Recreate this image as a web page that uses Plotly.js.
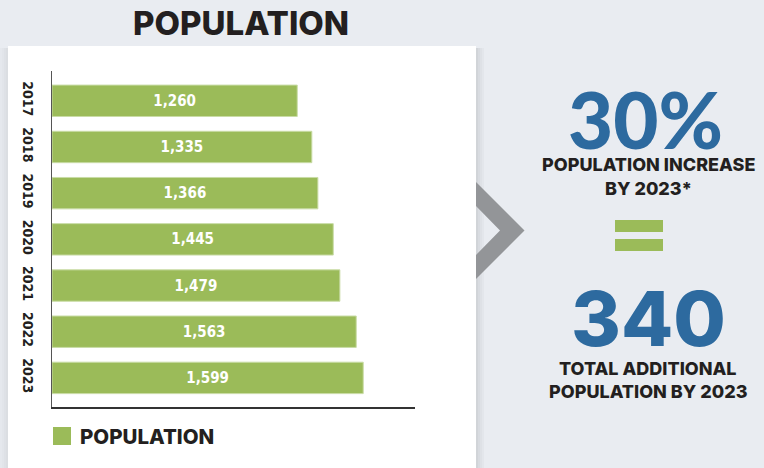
<!DOCTYPE html>
<html>
<head>
<meta charset="utf-8">
<script src="https://cdn.plot.ly/plotly-3.0.1.min.js"></script>
<style>html,body{margin:0;padding:0;background:#e9ecf1;}#chart{width:764px;height:468px;}</style>
</head>
<body>
<div id="chart"></div>
<script>
var years = ['2017', '2018', '2019', '2020', '2021', '2022', '2023'];
var population = [1260, 1335, 1366, 1445, 1479, 1563, 1599];
var seriesName = 'POPULATION';
var chartTitle = 'POPULATION';
var statPercent = '30%';
var statPercentLines = ['POPULATION INCREASE', 'BY 2023*'];
var statAdditional = '340';
var statAdditionalLines = ['TOTAL ADDITIONAL', 'POPULATION BY 2023'];

var W = 764, H = 468;
var L = 52, R = 415, T = 71, B = 407;
function px(x) { return (x - L) / (R - L); }
function py(y) { return (B - y) / (B - T); }

var green = '#9bbb59';
var blue = '#2d6a9f';
var dark = '#231f20';
var condensed = 'DejaVu Sans Condensed, Liberation Sans Narrow, sans-serif';
var barFont = 'Liberation Sans Narrow, DejaVu Sans Condensed, sans-serif';
var heavy = 'Inter, Lato, Open Sans, sans-serif';

var trace = {
  type: 'bar',
  orientation: 'h',
  y: years,
  x: population,
  name: seriesName,
  width: 0.68,
  marker: {color: green, line: {color: '#c9dca6', width: 1}},
  text: population.map(function (v) { return v.toLocaleString('en-US'); }),
  textposition: 'inside',
  insidetextanchor: 'middle',
  textangle: 0,
  constraintext: 'none',
  insidetextfont: {family: barFont, size: 15, color: '#ffffff', weight: 700},
  hoverinfo: 'none',
  showlegend: false
};

var shapes = [];
// panel shadows
var sh = [0.10, 0.07, 0.045, 0.025];
for (var i = 0; i < sh.length; i++) {
  shapes.push({type: 'rect', xref: 'paper', yref: 'paper', layer: 'below',
    x0: px(476 + i * 2), x1: px(478 + i * 2), y0: py(48), y1: py(470),
    line: {width: 0}, fillcolor: 'rgba(0,0,0,' + sh[i] + ')'});
  shapes.push({type: 'rect', xref: 'paper', yref: 'paper', layer: 'below',
    x0: px(6 - i * 2), x1: px(8 - i * 2), y0: py(48), y1: py(470),
    line: {width: 0}, fillcolor: 'rgba(0,0,0,' + (sh[i] * 0.6) + ')'});
}
// white panel
shapes.push({type: 'rect', xref: 'paper', yref: 'paper', layer: 'below',
  x0: px(8), x1: px(476), y0: py(46), y1: py(470),
  line: {width: 0}, fillcolor: '#ffffff'});
// chevron
shapes.push({type: 'path', xref: 'paper', yref: 'paper', layer: 'above',
  path: 'M ' + px(476) + ' ' + py(182) + ' L ' + px(524.5) + ' ' + py(230.5) +
        ' L ' + px(476) + ' ' + py(279) + ' L ' + px(476) + ' ' + py(255) +
        ' L ' + px(500) + ' ' + py(230.5) + ' L ' + px(476) + ' ' + py(206) + ' Z',
  line: {width: 0}, fillcolor: '#939598'});
// equals sign
shapes.push({type: 'rect', xref: 'paper', yref: 'paper', x0: px(615), x1: px(663), y0: py(220), y1: py(232), line: {width: 0}, fillcolor: green});
shapes.push({type: 'rect', xref: 'paper', yref: 'paper', x0: px(615), x1: px(663), y0: py(239), y1: py(251), line: {width: 0}, fillcolor: green});
// legend swatch
shapes.push({type: 'rect', xref: 'paper', yref: 'paper', x0: px(53), x1: px(71), y0: py(427), y1: py(445), line: {width: 0}, fillcolor: green});

function ann(text, x, y, size, color, xanchor, family, weight) {
  return {text: text, xref: 'paper', yref: 'paper', x: px(x), y: py(y),
    xanchor: xanchor || 'center', yanchor: 'middle', showarrow: false,
    font: {family: family || heavy, size: size, color: color, weight: weight || 800}, align: 'center'};
}

var annotations = [
  ann(chartTitle, 241, 23, 33, dark),
  ann(seriesName, 78, 437, 20.5, dark, 'left'),
  ann(statPercent, 645, 119, 78, blue, 'center', 'Lato, Inter, sans-serif', 900),
  ann(statPercentLines[0], 648, 164, 18, dark),
  ann(statPercentLines[1], 648, 188, 18, dark),
  ann(statAdditional, 648, 318, 76, blue),
  ann(statAdditionalLines[0], 648, 368, 18, dark),
  ann(statAdditionalLines[1], 648, 391, 18, dark)
];

var layout = {
  width: W, height: H,
  margin: {l: L, r: W - R, t: T, b: H - B, pad: 0},
  paper_bgcolor: '#e9ecf1',
  plot_bgcolor: 'rgba(0,0,0,0)',
  bargap: 0.32,
  xaxis: {range: [0, 1865], showline: true, linecolor: '#333333', linewidth: 1.5,
    showgrid: false, zeroline: false, showticklabels: false, ticks: '', fixedrange: true},
  yaxis: {type: 'category', range: [6.63, -0.645], showline: true, linecolor: '#555555', linewidth: 1,
    showgrid: false, zeroline: false, ticks: '', tickangle: 90, ticklabelstandoff: 11,
    tickfont: {family: condensed, size: 14, color: dark, weight: 700}, fixedrange: true},
  shapes: shapes,
  annotations: annotations,
  showlegend: false
};

Plotly.newPlot('chart', [trace], layout, {displayModeBar: false, staticPlot: true});
</script>
</body>
</html>
